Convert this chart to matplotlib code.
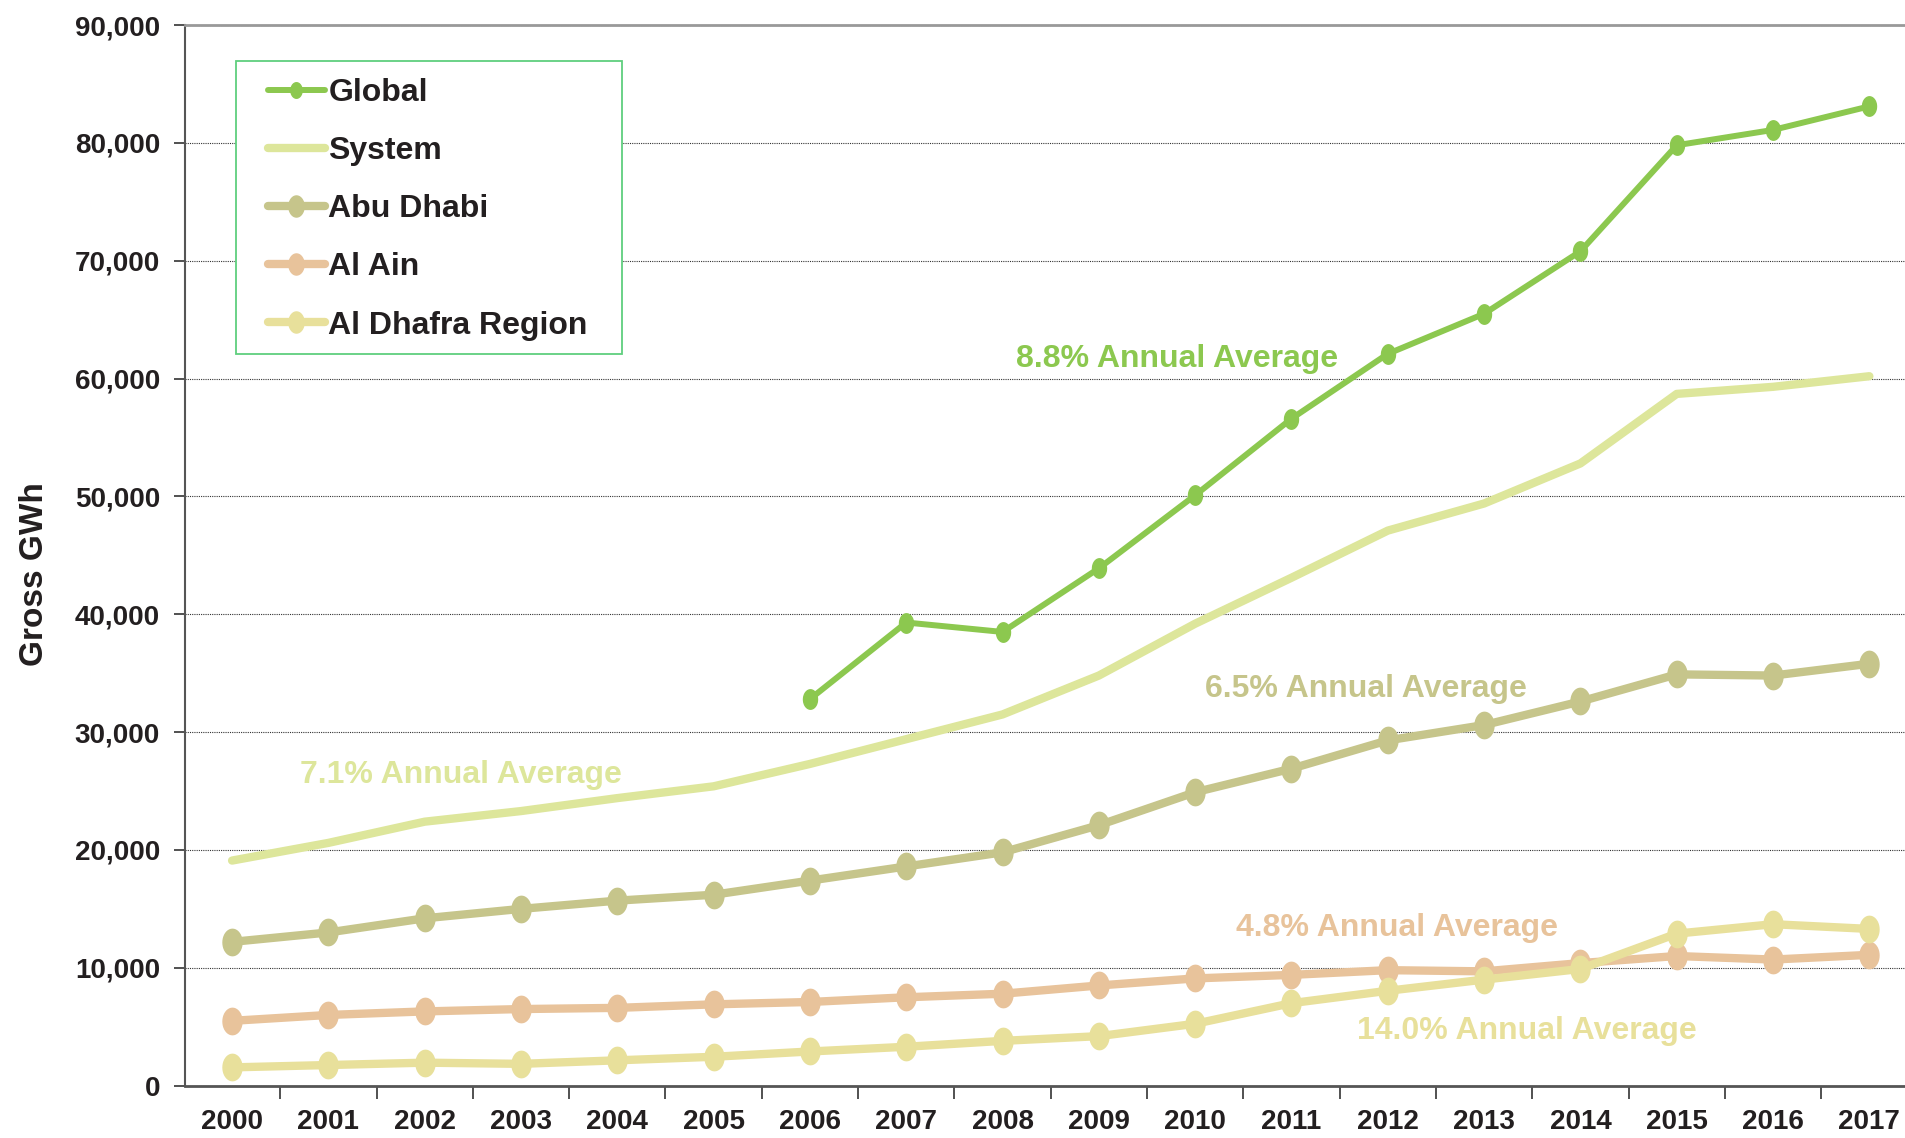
import numpy as np
import matplotlib.pyplot as plt
from matplotlib.path import Path
from matplotlib.patches import Rectangle
from matplotlib.ticker import FuncFormatter, FixedLocator

# values (Gross GWh)
years = [str(y) for y in range(2000, 2018)]
global_years = years[6:]
global_gwh = [32800, 39300, 38500, 43900, 50100, 56600, 62100, 65500,
              70800, 79800, 81100, 83100]
system_gwh = [19100, 20600, 22400, 23300, 24400, 25400, 27300, 29400, 31500,
              34800, 39200, 43100, 47100, 49400, 52800, 58700, 59300, 60200]
abu_dhabi = [12200, 13000, 14200, 15000, 15700, 16200, 17400, 18600, 19800,
             22100, 24900, 26900, 29300, 30600, 32600, 34900, 34800, 35800]
al_ain = [5500, 6000, 6300, 6500, 6600, 6900, 7100, 7500, 7800,
          8500, 9100, 9400, 9800, 9700, 10400, 11000, 10700, 11100]
al_dhafra = [1550, 1750, 1950, 1850, 2150, 2450, 2900, 3300, 3800,
             4200, 5250, 7000, 8050, 9000, 9900, 12900, 13700, 13300]

labels = ["8.8% Annual Average", "7.1% Annual Average", "6.5% Annual Average",
          "4.8% Annual Average", "14.0% Annual Average"]

c_global = "#8cc84f"
c_system = "#dde69b"
c_abu = "#c6c58b"
c_ain = "#e8c39b"
c_dhafra = "#e8e09b"
c_text = "#231f20"

bold = {"family": ["Liberation Sans", "DejaVu Sans"], "weight": "bold"}
narrow = {"family": ["Liberation Sans Narrow", "Liberation Sans", "DejaVu Sans"],
          "weight": "bold"}

# slightly tall oval marker, like the original
t = np.linspace(0, 2 * np.pi, 41)
oval = Path(np.column_stack([0.72 * np.cos(t), np.sin(t)]), closed=True)

fig = plt.figure(figsize=(19.06, 11.38), dpi=100)
ax = fig.add_axes([0.097, 0.046, 0.905, 0.932])

x = np.arange(len(years))
xg = np.arange(6, len(years))

ax.plot(xg, global_gwh, color=c_global, lw=4.3, marker=oval, ms=14,
        solid_capstyle="round", label="Global", zorder=5)
ax.plot(x, system_gwh, color=c_system, lw=6, solid_capstyle="round",
        label="System", zorder=4)
ax.plot(x, abu_dhabi, color=c_abu, lw=6, marker=oval, ms=19,
        solid_capstyle="round", label="Abu Dhabi", zorder=4)
ax.plot(x, al_ain, color=c_ain, lw=6, marker=oval, ms=19,
        solid_capstyle="round", label="Al Ain", zorder=4)
ax.plot(x, al_dhafra, color=c_dhafra, lw=6, marker=oval, ms=19,
        solid_capstyle="round", label="Al Dhafra Region", zorder=4)

# growth annotations
ax.text(8.14, 61700, labels[0], color=c_global, fontsize=23, va="center", **narrow)
ax.text(0.71, 26400, labels[1], color=c_system, fontsize=23, va="center", **narrow)
ax.text(10.1, 33650, labels[2], color=c_abu, fontsize=23, va="center", **narrow)
ax.text(10.42, 13400, labels[3], color=c_ain, fontsize=23, va="center", **narrow)
ax.text(11.68, 4650, labels[4], color=c_dhafra, fontsize=23, va="center", **narrow)

ax.set_xlim(-0.49, 17.42)
ax.set_ylim(0, 90000)

ax.set_yticks(np.arange(0, 90001, 10000))
ax.yaxis.set_major_formatter(FuncFormatter(lambda v, p: f"{int(v):,}"))
ax.grid(axis="y", color="#333333", ls=(0, (1, 1)), lw=0.8)
ax.set_axisbelow(True)

ax.set_xticks(x)
ax.set_xticklabels(years)
ax.xaxis.set_minor_locator(FixedLocator(np.arange(-0.5, 17.6, 1)))
ax.tick_params(axis="x", which="major", length=0, pad=17)
ax.tick_params(axis="x", which="minor", length=9, width=1.2, color="#333333")
ax.tick_params(axis="y", length=8, width=1.2, color="#333333", pad=10)

for lab in ax.get_xticklabels():
    lab.set_fontproperties({"family": narrow["family"], "weight": "bold", "size": 20})
    lab.set_color(c_text)
for lab in ax.get_yticklabels():
    lab.set_fontproperties({"family": bold["family"], "weight": "bold", "size": 20})
    lab.set_color(c_text)

ax.set_ylabel("Gross GWh", fontsize=24, color=c_text, **bold)
ax.yaxis.set_label_coords(-0.078, 0.482)

ax.spines["right"].set_visible(False)
ax.spines["top"].set_color("#999999")
ax.spines["top"].set_linewidth(2)
ax.spines["left"].set_color("#555555")
ax.spines["left"].set_linewidth(1.5)
ax.spines["bottom"].set_color("#555555")
ax.spines["bottom"].set_linewidth(2)

# legend box drawn separately so the padding matches the original
box = Rectangle((0.0296, 0.690), 0.2237, 0.2765, transform=ax.transAxes,
                facecolor="white", edgecolor="#5fcf7e", lw=1.3, zorder=6)
ax.add_patch(box)
leg = ax.legend(loc="upper left", bbox_to_anchor=(0.048, 0.950),
                prop={"family": bold["family"], "weight": "bold", "size": 23},
                frameon=False, handlelength=1.8,
                handletextpad=0.1, labelspacing=0.88, borderpad=0,
                borderaxespad=0, markerscale=0.8)
leg.set_zorder(7)
for txt in leg.get_texts():
    txt.set_color(c_text)

fig.savefig("out.png", dpi=100)
